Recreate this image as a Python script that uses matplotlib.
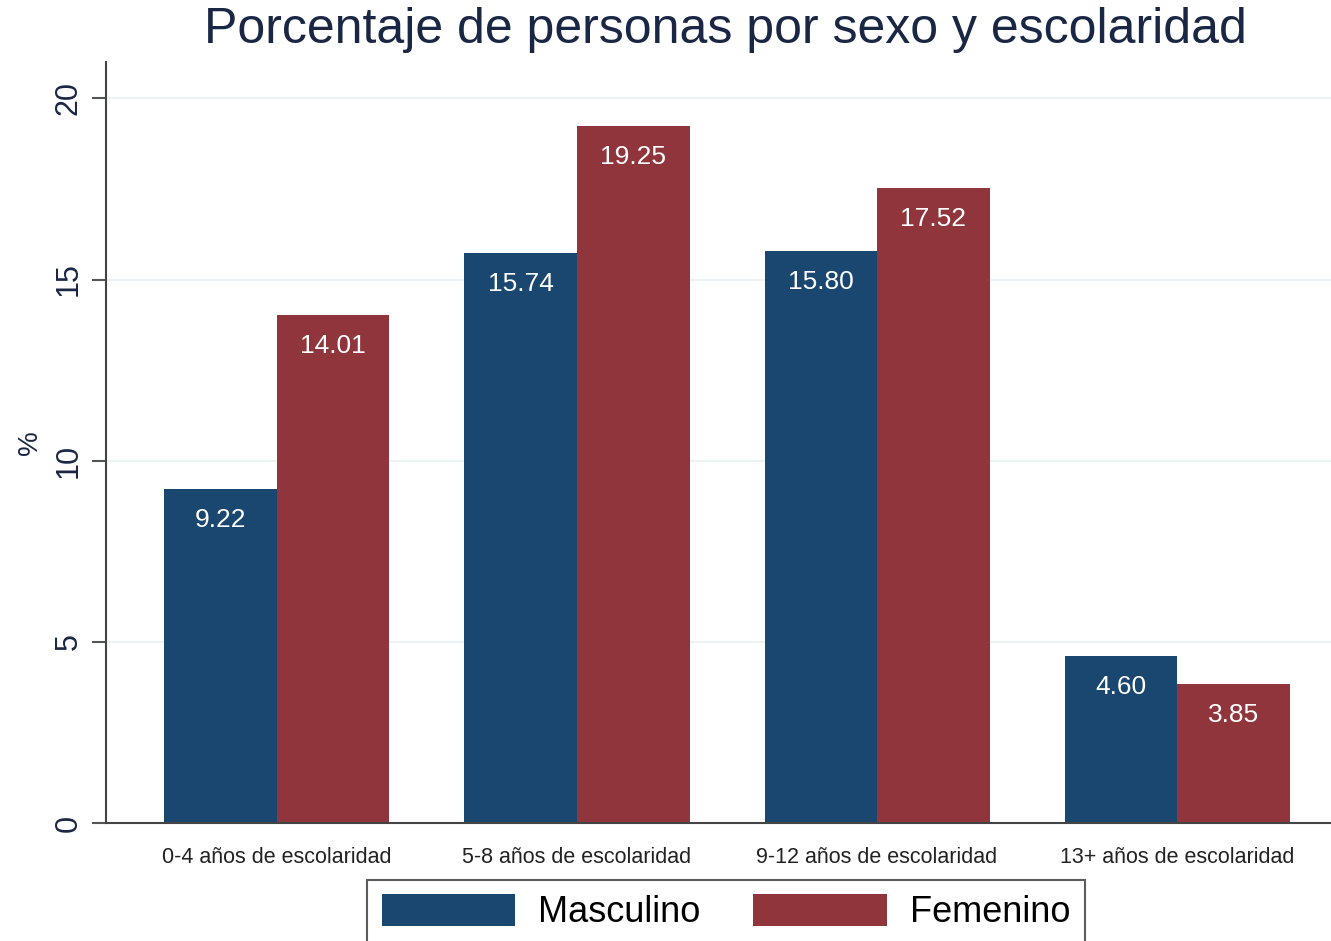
import numpy as np
import matplotlib.pyplot as plt

plt.rcParams['font.family'] = ['Liberation Sans', 'DejaVu Sans']

# datos
categorias = ['0-4 años de escolaridad', '5-8 años de escolaridad',
              '9-12 años de escolaridad', '13+ años de escolaridad']
masculino = [9.22, 15.74, 15.80, 4.60]
femenino = [14.01, 19.25, 17.52, 3.85]
series = ['Masculino', 'Femenino']
yticks = [0, 5, 10, 15, 20]

AZUL = '#1a476f'
ROJO = '#90353b'
TXT = '#1a2744'

fig = plt.figure(figsize=(13.31, 9.41), dpi=100)
ax = fig.add_axes([0.0796, 0.1254, 0.9204, 0.8086])

x = np.arange(len(categorias))
w = 0.375
b1 = ax.bar(x - w / 2, masculino, w, color=AZUL, label=series[0])
b2 = ax.bar(x + w / 2, femenino, w, color=ROJO, label=series[1])

# etiquetas dentro de las barras
for bars in (b1, b2):
    for r in bars:
        ax.annotate(f"{r.get_height():.2f}",
                    (r.get_x() + r.get_width() / 2, r.get_height()),
                    xytext=(0, -31), textcoords='offset pixels',
                    ha='center', va='center', color='white', fontsize=19)

ax.set_xlim(-0.57, 3.513)
ax.set_ylim(0, 21)
ax.set_yticks(yticks)
ax.set_yticklabels([str(t) for t in yticks], rotation=90, va='center',
                   fontsize=22, color=TXT)
ax.set_xticks(x)
ax.set_xticklabels(categorias, fontsize=15.5, color='#222222')
ax.tick_params(axis='x', length=0, pad=17)
ax.tick_params(axis='y', length=10, width=1.5, color='#555555', pad=6)

ax.grid(axis='y', color='#eaf2f3', linewidth=1.3)
ax.set_axisbelow(True)
for s in ('top', 'right'):
    ax.spines[s].set_visible(False)
for s in ('left', 'bottom'):
    ax.spines[s].set_color('#444444')
    ax.spines[s].set_linewidth(1.5)

ax.set_ylabel('%', fontsize=20, color=TXT, labelpad=8)
fig.text(0.545, 1 - 30 / 941, 'Porcentaje de personas por sexo y escolaridad',
         ha='center', va='center', fontsize=36, color=TXT)

leg = fig.legend(handles=[b1, b2], labels=series, loc='upper center',
                 bbox_to_anchor=(0.5455, 1 - 880 / 941), ncol=2, fontsize=26,
                 frameon=True, fancybox=False, handlelength=3.7,
                 handleheight=0.95, columnspacing=1.45, handletextpad=0.64,
                 borderpad=0.4, borderaxespad=0)
leg.get_frame().set_edgecolor('#333333')
leg.get_frame().set_linewidth(1.5)

fig.savefig('out.png', dpi=100)
